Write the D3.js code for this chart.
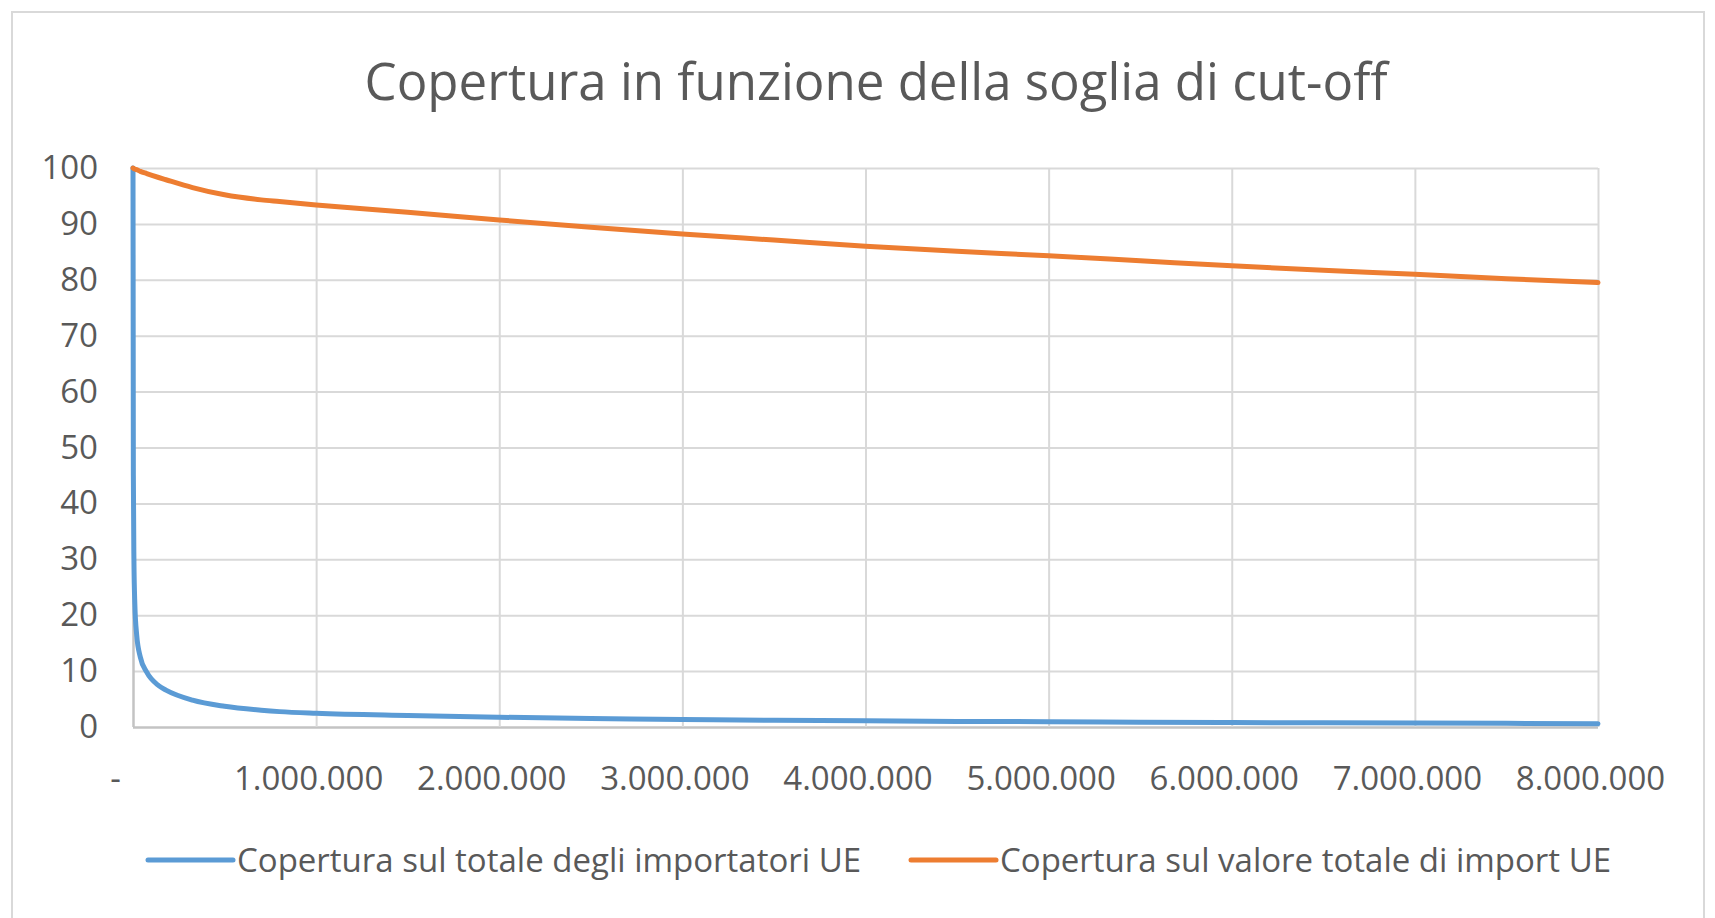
<!DOCTYPE html>
<html>
<head>
<meta charset="utf-8">
<script src="https://cdn.jsdelivr.net/npm/d3@7"></script>
<style>
  html, body { margin: 0; padding: 0; background: #fff; }
  svg { display: block; }
  text { font-family: "Open Sans", sans-serif; fill: #595959; }
</style>
</head>
<body>
<script>
// soglia di cut-off (valore import, euro)
var cutoff = [0, 2000, 5000, 10000, 20000, 40000, 75000, 140000, 180000, 325000,
  500000, 700000, 800000, 1000000, 1500000, 2000000, 2500000, 3000000, 3500000,
  4000000, 4500000, 5000000, 5500000, 6000000, 6500000, 7000000, 7500000, 8000000];

// % importatori coperti
var copImportatori = [100, 45, 30, 22, 16.5, 12.5, 9.8, 7.4, 6.6, 4.8,
  3.7, 3.0, 2.75, 2.45, 2.05, 1.75, 1.5, 1.35, 1.2,
  1.1, 1.0, 0.95, 0.87, 0.8, 0.75, 0.7, 0.65, 0.6];

// % valore import coperto
var copValore = [100, 99.97, 99.9, 99.8, 99.7, 99.4, 99.0, 98.3, 97.9, 96.5,
  95.2, 94.3, 94.0, 93.4, 92.1, 90.7, 89.4, 88.2, 87.1,
  86.0, 85.1, 84.3, 83.4, 82.5, 81.7, 81.0, 80.2, 79.5];

var seriesNames = ["Copertura sul totale degli importatori UE", "Copertura sul valore totale di import UE"];
var seriesColors = ["#5B9BD5", "#ED7D31"];

var xTicks = [0, 1000000, 2000000, 3000000, 4000000, 5000000, 6000000, 7000000, 8000000];
var yTicks = [0, 10, 20, 30, 40, 50, 60, 70, 80, 90, 100];

var chartTitle = "Copertura in funzione della soglia di cut-off";

var W = 1715, H = 918;
// plot area (don't call these top/left: window.top is read-only)
var plotL = 133, plotR = 1598, plotT = 168, plotB = 727;

var svg = d3.select("body").append("svg")
  .attr("width", W)
  .attr("height", H);

// chart frame
svg.append("rect")
  .attr("x", 12).attr("y", 12)
  .attr("width", 1692).attr("height", H + 20)
  .attr("fill", "#fff")
  .attr("stroke", "#d9d9d9")
  .attr("stroke-width", 2);

svg.append("text")
  .attr("x", 876).attr("y", 100)
  .attr("text-anchor", "middle")
  .style("font-size", "51px")
  .text(chartTitle);

var x = d3.scaleLinear().domain([0, 8000000]).range([plotL, plotR]);
var y = d3.scaleLinear().domain([0, 100]).range([plotB, plotT]);

var it = d3.formatLocale({decimal: ",", thousands: ".", grouping: [3], currency: ["", " €"]});
var fmt = it.format(",.0f");

// y gridlines + labels
var gy = svg.append("g")
  .attr("transform", "translate(" + plotL + ",0)")
  .call(d3.axisLeft(y).tickValues(yTicks).tickSize(-(plotR - plotL)).tickPadding(35));

// x gridlines + labels
var gx = svg.append("g")
  .attr("transform", "translate(0," + plotB + ")")
  .call(d3.axisBottom(x).tickValues(xTicks).tickSize(-(plotB - plotT)).tickPadding(40)
    .tickFormat(function(d) { return d === 0 ? "-" : fmt(d); }));

[gx, gy].forEach(function(g) {
  g.select(".domain").remove();
  g.selectAll(".tick line")
    .attr("stroke", function(d) { return d === 0 ? "#c3c3c3" : "#d9d9d9"; })
    .attr("stroke-width", function(d) { return d === 0 ? 2.5 : 2; });
  g.selectAll(".tick text")
    .attr("fill", "#595959")
    .style("font-family", "'Open Sans', sans-serif")
    .style("font-size", "33px");
});
gx.selectAll(".tick text").attr("dx", function(d) { return d === 0 ? -18 : -8; });

// lines
var series = [copImportatori, copValore];
var line = d3.line()
  .x(function(d, i) { return x(cutoff[i]); })
  .y(function(d) { return y(d); })
  .curve(d3.curveMonotoneX);

svg.selectAll(".serie")
  .data(series)
  .enter()
  .append("path")
  .attr("class", "serie")
  .attr("d", line)
  .attr("fill", "none")
  .attr("stroke", function(d, i) { return seriesColors[i]; })
  .attr("stroke-width", 5)
  .attr("stroke-linecap", "round")
  .attr("stroke-linejoin", "round");

// legend
var legendX = [148, 911];
var lg = svg.selectAll(".legend")
  .data(seriesNames)
  .enter()
  .append("g")
  .attr("class", "legend")
  .attr("transform", function(d, i) { return "translate(" + legendX[i] + ",860)"; });

lg.append("line")
  .attr("x1", 0).attr("x2", 85)
  .attr("stroke", function(d, i) { return seriesColors[i]; })
  .attr("stroke-width", 5)
  .attr("stroke-linecap", "round");

lg.append("text")
  .attr("x", 89)
  .attr("dy", "0.35em")
  .style("font-size", "33px")
  .text(function(d) { return d; });
</script>
</body>
</html>
